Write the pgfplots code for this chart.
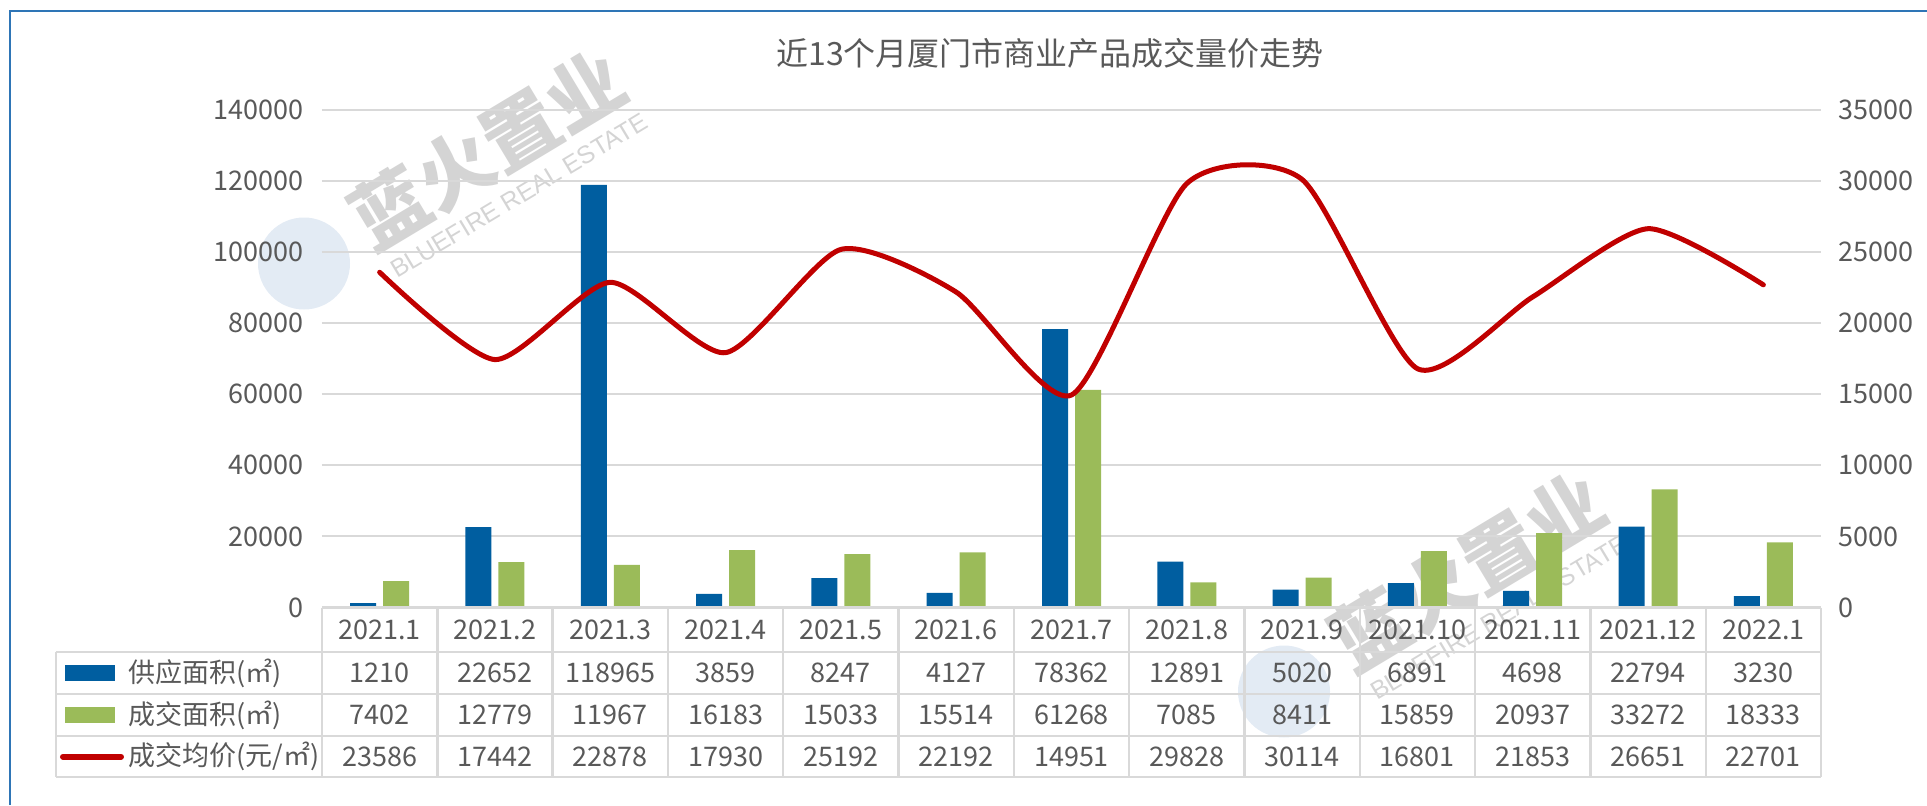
\documentclass[border=0pt]{standalone}
\usepackage{pgfplots}
\pgfplotsset{compat=1.18}
\usepackage{pgfplotstable}
\usepackage{fontspec}
\setmainfont{Noto Sans CJK SC}
\newfontfamily\latinfont{Liberation Sans}
\definecolor{supply}{HTML}{005EA0}
\definecolor{deal}{HTML}{9BBB59}
\definecolor{price}{HTML}{C00000}
\definecolor{gridc}{HTML}{D9D9D9}
\definecolor{txt}{HTML}{595959}
\definecolor{framec}{HTML}{2E75B6}
\definecolor{wm}{HTML}{D4D4D4}
\definecolor{logoc}{HTML}{E3EBF4}

\pgfplotstableread{
x supply deal price
0 1210 7402 23586
1 22652 12779 17442
2 118965 11967 22878
3 3859 16183 17930
4 8247 15033 25192
5 4127 15514 22192
6 78362 61268 14951
7 12891 7085 29828
8 5020 8411 30114
9 6891 15859 16801
10 4698 20937 21853
11 22794 33272 26651
12 3230 18333 22701
}\datatable

\pgfplotsset{base/.style={
  scale only axis, width=749.5pt, height=248.75pt,
  at={(0pt,0pt)}, anchor=south west,
  xmin=-0.5, xmax=12.5, ymin=0,
  xtick=\empty,
  axis line style={draw=none},
  tick style={draw=none},
  ticklabel style={font=\fontsize{13.5}{16}\selectfont, text=txt, inner sep=0pt},
  /pgf/number format/fixed,
  /pgf/number format/precision=0,
  /pgf/number format/assume math mode=true,
  /pgf/number format/1000 sep={},
  scaled y ticks=false,
  clip=false,
}}

\begin{document}
\begin{tikzpicture}[x=1pt,y=1pt]
\path[use as bounding box] (-161,-98.75) rectangle (802.5,303.75);

% watermarks (background)
\foreach \lx/\ly/\tx/\ty/\bx/\by in {-9/172/83/229/98.5/206, 481/-42/573/18/588.5/-5}{
  \fill[logoc] (\lx,\ly) circle (23);
  \node[rotate=31, text=wm, font=\fontsize{38}{38}\selectfont\bfseries] at (\tx,\ty) {蓝火置业};
  \node[rotate=31, text=wm, font=\latinfont\fontsize{12.5}{13}\selectfont] at (\bx,\by) {BLUEFIRE REAL ESTATE};
}

\begin{axis}[base,
  ymax=140000, ytick={0,20000,...,140000},
  ymajorgrids, grid style={gridc, line width=1pt},
  yticklabel style={anchor=east, xshift=-9pt},
  ybar, bar width=13pt]
\addplot[fill=supply, draw=none, bar shift=-8.25pt] table[x=x,y=supply]{\datatable};
\addplot[fill=deal, draw=none, bar shift=8.25pt] table[x=x,y=deal]{\datatable};
\end{axis}

\begin{axis}[base,
  ymax=35000, ytick={0,5000,...,35000},
  axis y line*=right, axis x line=none,
  yticklabel style={anchor=west, xshift=8.5pt}]
\addplot[price, line width=2.5pt, line cap=round, smooth, tension=0.4] table[x=x,y=price]{\datatable};
\end{axis}

% data table
\def\cw{57.654}
\begin{scope}[gridc, line width=1.2pt]
\draw (0,0) -- (749.5,0);
\foreach \yy in {-22.25,-43.25,-64.25,-84.75} \draw (-133,\yy) -- (749.5,\yy);
\draw (-133,-22.25) -- (-133,-84.75);
\foreach \i in {0,...,13} \draw (\i*\cw,0) -- (\i*\cw,-84.75);
\end{scope}

\begin{scope}[every node/.style={text=txt, font=\fontsize{13.5}{16}\selectfont, inner sep=0pt}]
\foreach \lab [count=\i from 0] in {2021.1,2021.2,2021.3,2021.4,2021.5,2021.6,2021.7,2021.8,2021.9,2021.10,2021.11,2021.12,2022.1}
  \node at ({(\i+0.5)*\cw},-11.1) {\lab};
\foreach \a/\b/\c [count=\i from 0] in {1210/7402/23586, 22652/12779/17442, 118965/11967/22878, 3859/16183/17930, 8247/15033/25192, 4127/15514/22192, 78362/61268/14951, 12891/7085/29828, 5020/8411/30114, 6891/15859/16801, 4698/20937/21853, 22794/33272/26651, 3230/18333/22701}{
  \node at ({(\i+0.5)*\cw},-32.75) {\a};
  \node at ({(\i+0.5)*\cw},-53.75) {\b};
  \node at ({(\i+0.5)*\cw},-74.6) {\c};
}
\fill[supply] (-128.5,-36.75) rectangle (-103.5,-28.75);
\fill[deal] (-128.5,-57.75) rectangle (-103.5,-49.75);
\draw[price, line width=3pt, line cap=round] (-129.5,-74.6) -- (-100.5,-74.6);
\node[anchor=west] at (-97,-32.75) {供应面积(㎡)};
\node[anchor=west] at (-97,-53.75) {成交面积(㎡)};
\node[anchor=west] at (-97,-74.6) {成交均价(元/㎡)};
\node[font=\fontsize{16}{18}\selectfont] at (364,277.25) {近13个月厦门市商业产品成交量价走势};
\end{scope}

% outer frame
\draw[framec, line width=1.4pt] (-156,-98.75) -- (-156,298.25) -- (802.5,298.25);
\end{tikzpicture}
\end{document}
